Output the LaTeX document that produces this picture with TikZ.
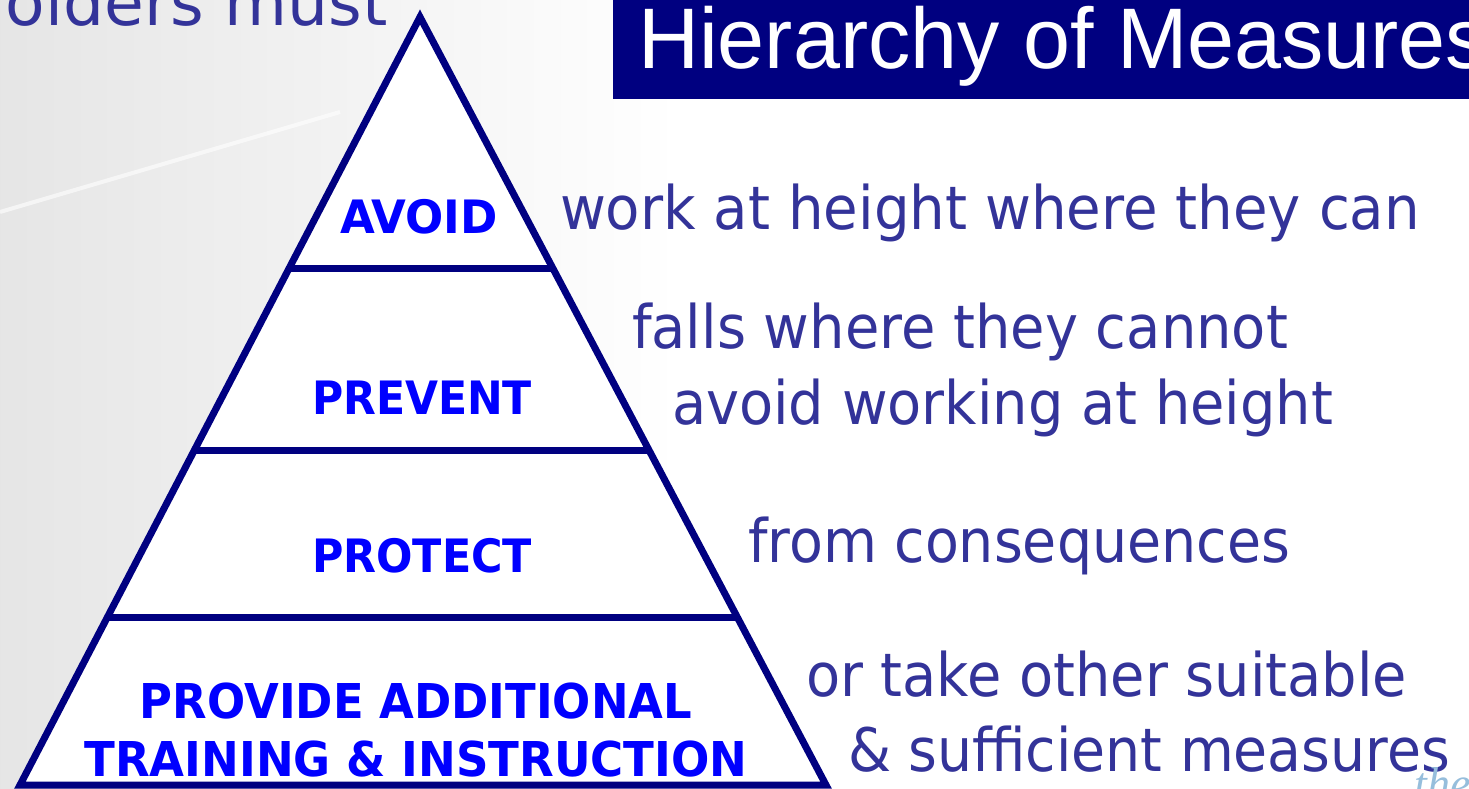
\documentclass[tikz,border=0pt]{standalone}
\usepackage{fontspec}
\usepackage{graphicx}
\setmainfont{DejaVu Sans}
\newfontfamily\arialfont{Liberation Sans}
\newfontfamily\serifit{Liberation Serif}
\newcommand{\fitw}[2]{\resizebox{#1}{\height}{#2}}
\definecolor{navy}{RGB}{0,0,128}
\definecolor{labblue}{RGB}{0,0,255}
\definecolor{rtext}{RGB}{51,51,153}
\definecolor{logoblue}{RGB}{150,190,220}
\tikzset{
  rt/.style={anchor=base west, inner sep=0pt, outer sep=0pt, text=rtext, font=\fontsize{60}{62}\selectfont},
  lab/.style={anchor=base, inner sep=0pt, outer sep=0pt, text=labblue, font=\bfseries\fontsize{46}{48}\selectfont},
  pyr/.style={draw=navy, line width=7pt, line join=miter},
  tier/.style={draw=navy, line width=7pt}
}
\begin{document}
\begin{tikzpicture}[x=1pt,y=-1pt]
\useasboundingbox (0,0) rectangle (1469,789);
\clip (0,0) rectangle (1469,789);
% background
\fill[white] (0,0) rectangle (1469,789);
\shade[left color=black!10, right color=white] (0,0) rectangle (680,789);
\draw[white, line width=4pt, opacity=0.6] (0,212) -- (340,112);
% top-left cut text
\node[anchor=base east, inner sep=0pt, text=rtext, font=\fontsize{64}{66}\selectfont] (lead) at (388,26) {\fitw{423pt}{holders must}};
% title box
\fill[navy] (613,0) rectangle (1469,99);
\node[anchor=base west, inner sep=0pt, text=white, font=\arialfont\fontsize{86}{88}\selectfont] (title) at (638,69) {\fitw{850pt}{Hierarchy of Measures}};
% pyramid
\coordinate (apex) at (420,17);
\coordinate (bl) at (20,785);
\coordinate (br) at (826,785);
\fill[white] (apex) -- (bl) -- (br) -- cycle;
\coordinate (l1) at (289,268); \coordinate (r1) at (553,268);
\coordinate (l2) at (194,450); \coordinate (r2) at (649,450);
\coordinate (l3) at (107,617); \coordinate (r3) at (737,617);
\draw[tier] (l1) -- (r1);
\draw[tier] (l2) -- (r2);
\draw[tier] (l3) -- (r3);
\draw[pyr] (apex) -- (bl) -- (br) -- cycle;
% labels
\node[lab] (avoid) at (419,233) {\fitw{158pt}{AVOID}};
\node[lab] (prevent) at (422,414) {\fitw{220pt}{PREVENT}};
\node[lab] (protect) at (422,572) {\fitw{220pt}{PROTECT}};
\node[lab, font=\bfseries\fontsize{48}{50}\selectfont] (provide) at (416,718) {\fitw{552pt}{PROVIDE ADDITIONAL}};
\node[lab, font=\bfseries\fontsize{48}{50}\selectfont] (training) at (416,776) {\fitw{663pt}{TRAINING \& INSTRUCTION}};
% right texts
\node[rt] (t1) at (560,229) {\fitw{860pt}{work at height where they can}};
\node[rt] (t2) at (632,348) {\fitw{656pt}{falls where they cannot}};
\node[rt] (t3) at (672,424) {\fitw{661pt}{avoid working at height}};
\node[rt] (t4) at (748,562) {\fitw{542pt}{from consequences}};
\node[rt] (t5) at (806,696) {\fitw{601pt}{or take other suitable}};
\node[rt] (t6) at (848,771) {\fitw{602pt}{\& sufficient measures}};
% logo fragment
\node[anchor=base west, inner sep=0pt, text=logoblue, font=\serifit\itshape\fontsize{46}{48}\selectfont] (logo) at (1414,799) {the};
\end{tikzpicture}
\end{document}
